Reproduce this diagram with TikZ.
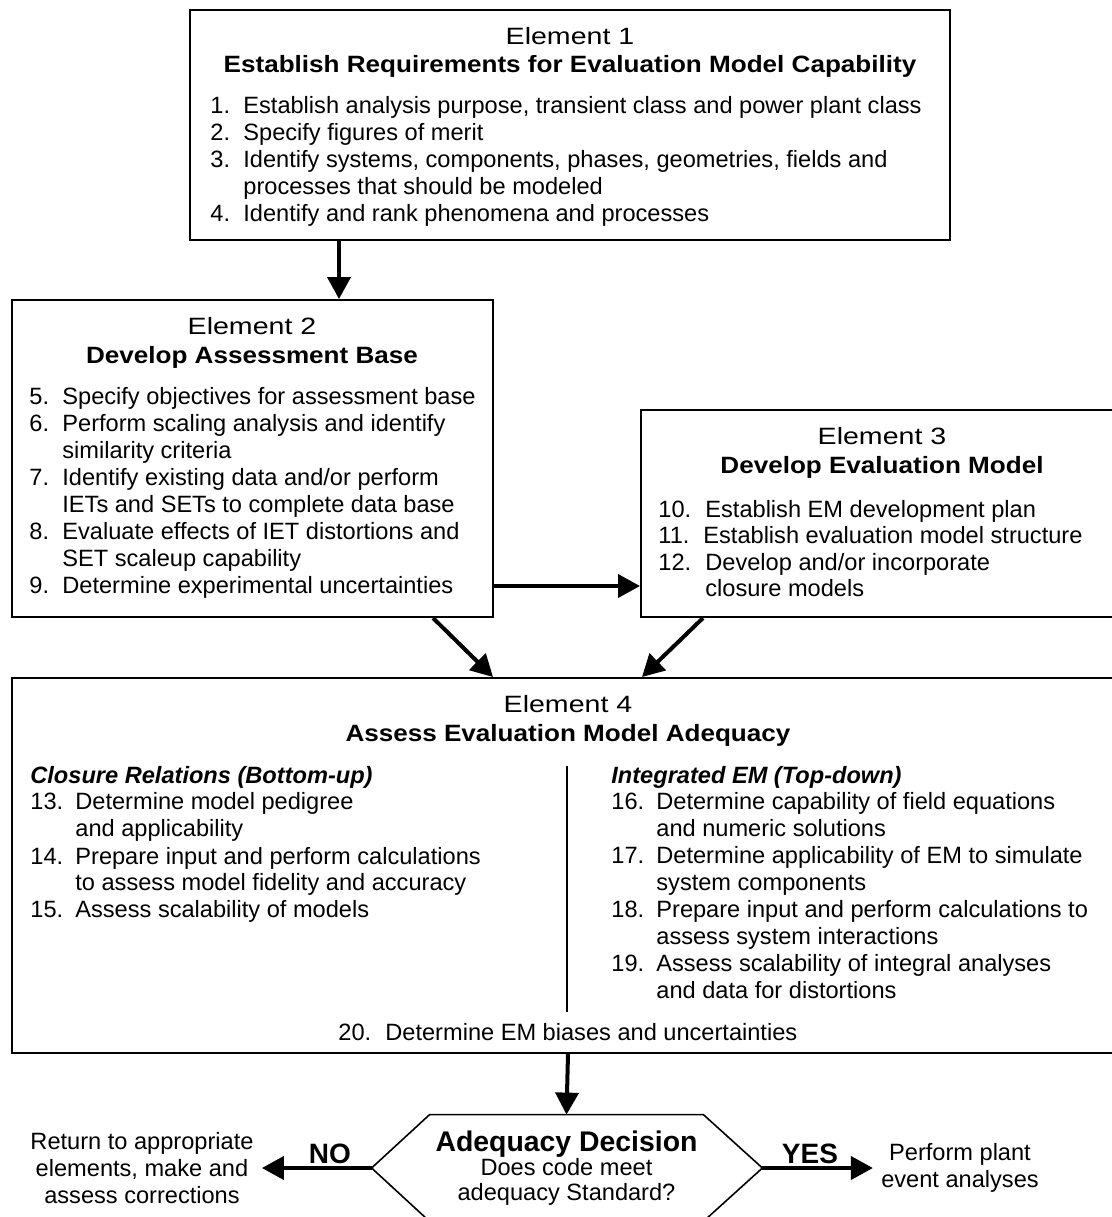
\documentclass[tikz,border=0pt]{standalone}
\usepackage{fontspec}
\setmainfont{Liberation Sans}
\newfontfamily\elemfont[FakeStretch=1.21]{Liberation Sans}
\newfontfamily\headfont[FakeStretch=1.105]{Liberation Sans}
\usetikzlibrary{positioning, fit, arrows.meta}

\begin{document}
\begin{tikzpicture}[x=0.5pt, y=-0.5pt,
  elbox/.style={draw, line width=1pt, inner sep=0pt},
  txt/.style={anchor=base west, inner sep=0pt, font=\fontsize{11.8}{13.5}\selectfont},
  ttl/.style={anchor=base, inner sep=0pt, font=\fontsize{11.8}{13.5}\selectfont\elemfont},
  ttlb/.style={ttl, font=\fontsize{11.8}{13.5}\selectfont\headfont\bfseries},
  subhd/.style={txt, font=\fontsize{11.8}{13.5}\selectfont\bfseries\itshape},
  flow/.style={line width=2pt, -{Triangle[length=11pt, width=11.5pt]}},
  decision/.style={minimum width=136.5pt, minimum height=53pt, inner sep=0pt,
    align=center, font=\fontsize{11.8}{12.3}\selectfont},
  side/.style={align=center, inner sep=4pt, font=\fontsize{11.8}{13.3}\selectfont},
  answer/.style={font=\fontsize{14}{14}\selectfont\bfseries, inner sep=1pt}
]
  \useasboundingbox (0,0) rectangle (1112,1217);
  \clip (0,0) rectangle (1112,1217);

  % the four element boxes
  \node[elbox, fit={(190,10) (950,240)}] (el1) {};
  \node[elbox, fit={(12,300) (493,617)}] (el2) {};
  \node[elbox, fit={(641,410) (1123,617)}] (el3) {};
  \node[elbox, fit={(12,678) (1124,1053)}] (el4) {};

  % element 1
  \node[ttl] (h1) at (570,44) {Element 1};
  \node[ttlb] (s1) at (570,72) {Establish Requirements for Evaluation Model Capability};
  \node[txt] (n1) at (210,113) {1.};
  \node[txt] (t1) at (243,113) {Establish analysis purpose, transient class and power plant class};
  \node[txt] (n2) at (210,140) {2.};
  \node[txt] (t2) at (243,140) {Specify figures of merit};
  \node[txt] (n3) at (210,167) {3.};
  \node[txt] (t3) at (243,167) {Identify systems, components, phases, geometries, fields and};
  \node[txt] (t3b) at (243,194) {processes that should be modeled};
  \node[txt] (n4) at (210,221) {4.};
  \node[txt] (t4) at (243,221) {Identify and rank phenomena and processes};

  % element 2
  \node[ttl] (h2) at (252,334) {Element 2};
  \node[ttlb] (s2) at (252,363) {Develop Assessment Base};
  \node[txt] (n5) at (29,404) {5.};
  \node[txt] (t5) at (62,404) {Specify objectives for assessment base};
  \node[txt] (n6) at (29,431) {6.};
  \node[txt] (t6) at (62,431) {Perform scaling analysis and identify};
  \node[txt] (t6b) at (62,458) {similarity criteria};
  \node[txt] (n7) at (29,485) {7.};
  \node[txt] (t7) at (62,485) {Identify existing data and/or perform};
  \node[txt] (t7b) at (62,512) {IETs and SETs to complete data base};
  \node[txt] (n8) at (29,539) {8.};
  \node[txt] (t8) at (62,539) {Evaluate effects of IET distortions and};
  \node[txt] (t8b) at (62,566) {SET scaleup capability};
  \node[txt] (n9) at (29,593) {9.};
  \node[txt] (t9) at (62,593) {Determine experimental uncertainties};

  % element 3
  \node[ttl] (h3) at (882,444) {Element 3};
  \node[ttlb] (s3) at (882,473) {Develop Evaluation Model};
  \node[txt] (n10) at (658,517) {10.};
  \node[txt] (t10) at (705,517) {Establish EM development plan};
  \node[txt] (n11) at (658,543) {11.};
  \node[txt] (t11) at (703,543) {Establish evaluation model structure};
  \node[txt] (n12) at (658,570) {12.};
  \node[txt] (t12) at (705,570) {Develop and/or incorporate};
  \node[txt] (t12b) at (705,596) {closure models};

  % element 4
  \node[ttl] (h4) at (568,712) {Element 4};
  \node[ttlb] (s4) at (568,741) {Assess Evaluation Model Adequacy};
  \node[subhd] (cr) at (30,783) {Closure Relations (Bottom-up)};
  \node[txt] (n13) at (30,809) {13.};
  \node[txt] (t13) at (75,809) {Determine model pedigree};
  \node[txt] (t13b) at (75,836) {and applicability};
  \node[txt] (n14) at (30,864) {14.};
  \node[txt] (t14) at (75,864) {Prepare input and perform calculations};
  \node[txt] (t14b) at (75,890) {to assess model fidelity and accuracy};
  \node[txt] (n15) at (30,917) {15.};
  \node[txt] (t15) at (75,917) {Assess scalability of models};

  \node[subhd] (ie) at (611,783) {Integrated EM (Top-down)};
  \node[txt] (n16) at (611,809) {16.};
  \node[txt] (t16) at (656,809) {Determine capability of field equations};
  \node[txt] (t16b) at (656,836) {and numeric solutions};
  \node[txt] (n17) at (611,863) {17.};
  \node[txt] (t17) at (656,863) {Determine applicability of EM to simulate};
  \node[txt] (t17b) at (656,890) {system components};
  \node[txt] (n18) at (611,917) {18.};
  \node[txt] (t18) at (656,917) {Prepare input and perform calculations to};
  \node[txt] (t18b) at (656,944) {assess system interactions};
  \node[txt] (n19) at (611,971) {19.};
  \node[txt] (t19) at (656,971) {Assess scalability of integral analyses};
  \node[txt] (t19b) at (656,998) {and data for distortions};

  \draw[line width=1pt] (567,766) -- (567,1012);

  \node[txt] (n20) at (338,1040) {20.};
  \node[txt] (t20) at (385,1040) {Determine EM biases and uncertainties};

  % decision and outcomes
  \node[decision] (dec) at (566.5,1168)
    {{\fontsize{14.2}{14}\selectfont\bfseries Adequacy Decision}\\Does code meet\\adequacy Standard?};
  \coordinate (decL) at ([xshift=-29pt]dec.west);
  \coordinate (decR) at ([xshift=29.5pt]dec.east);
  \draw[line width=0.8pt] (dec.north west) -- (dec.north east) -- (decR)
    -- (dec.south east) -- (dec.south west) -- (decL) -- cycle;
  \node[side] (ret) at (142,1168) {Return to appropriate\\elements, make and\\assess corrections};
  \node[side] (perf) at (960,1168) {Perform plant\\event analyses};

  % connectors
  \coordinate (a12) at ([xshift=75pt]el1.south west);
  \draw[flow] (a12) -- (a12 |- el2.north);
  \coordinate (a23) at ([yshift=16pt]el2.south east);
  \draw[flow] (a23) -- (a23 -| el3.west);
  \draw[flow] ([xshift=-30.5pt]el2.south east) -- ([xshift=-37.5pt]el4.north);
  \draw[flow] ([xshift=31.5pt]el3.south west) -- ([xshift=37pt]el4.north);
  \draw[flow] (el4.south) -- (dec.north);
  \draw[flow] (decL) -- node[answer, above, pos=0.38] {NO} (ret.east);
  \draw[flow] (decR) -- node[answer, above, pos=0.43] {YES} (perf.west);
\end{tikzpicture}
\end{document}
